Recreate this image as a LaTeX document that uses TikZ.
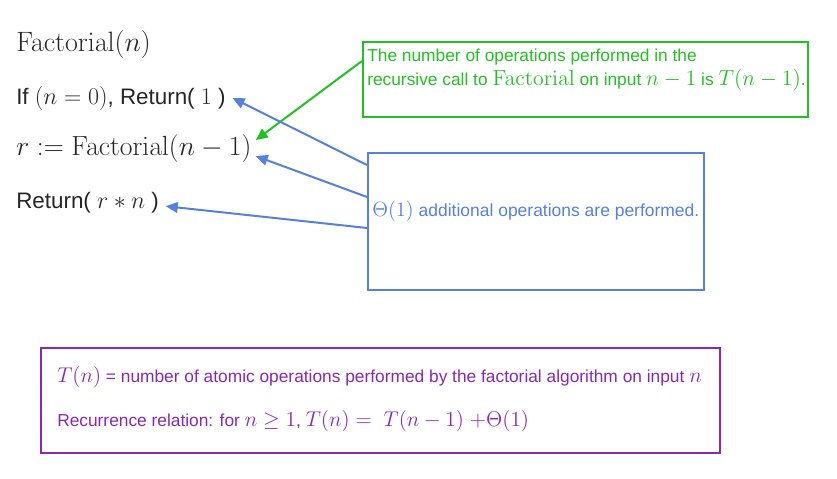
\RequirePackage{fix-cm}
\documentclass[tikz,border=0pt]{standalone}
\usepackage[no-math]{fontspec}
\setmainfont{Liberation Sans}
\usetikzlibrary{arrows.meta}

\definecolor{opgreen}{RGB}{34,192,34}
\definecolor{opblue}{RGB}{86,128,222}
\definecolor{recpurple}{RGB}{136,40,176}

% math set a little larger than the surrounding text
\newcommand{\mth}[2][18]{{\fontsize{#1}{#1}\selectfont$#2$}}

\begin{document}
\begin{tikzpicture}[x=0.75pt, y=-0.75pt, >={Triangle[length=9pt,width=8pt]},
    prog/.style={anchor=base west, inner sep=0pt, text=black!85},
    note/.style={anchor=base west, inner sep=0pt},
    frame/.style={draw, line width=1.5pt, inner sep=0pt, anchor=north west},
    link/.style={line width=1.5pt, ->}]
    % keep the margins of the page
    \useasboundingbox (0,0) rectangle (837,478);

    % Pseudocode
    \node[prog] (title) at (16,51) {\mth[21]{\mathrm{Factorial}(n)}};
    \node[prog] (base) at (16,104) {\fontsize{16.8}{19}\selectfont If \mth{(n=0)}, Return( \mth{1} )};
    \node[prog] (rcall) at (16,155) {\mth[20.8]{r := \mathrm{Factorial}(n-1)}};
    \node[prog] (ret) at (16,208) {\fontsize{16.8}{19}\selectfont Return( \mth{r*n} )};

    % Recursive call box
    \node[frame, opgreen, minimum width=333.75pt, minimum height=56.25pt] (opsbox) at (362,41) {};
    \node[note, text=opgreen] (opsline1) at (367,61) {\fontsize{13}{15}\selectfont The number of operations performed in the};
    \node[note, text=opgreen] (opsline2) at (367,85) {\fontsize{13}{15}\selectfont recursive call to \mth[16.4]{\mathrm{Factorial}} on input \mth[16.4]{n-1} is \mth[16.4]{T(n-1)}.};

    % Constant work box
    \node[frame, opblue, minimum width=252pt, minimum height=102.75pt] (thetabox) at (367,152) {};
    \node[note, text=opblue] (thetaline) at (372,216) {\fontsize{13.1}{15}\selectfont \mth[15.5]{\Theta(1)} additional operations are performed.};

    % Arrows into the pseudocode
    \draw[link, opgreen] ([yshift=-15pt]opsbox.north west) -- ([shift={(3pt,6pt)}]rcall.east);
    \draw[link, opblue] ([yshift=-9.75pt]thetabox.north west) -- ([shift={(5pt,0pt)}]base.east);
    \draw[link, opblue] ([yshift=-33.75pt]thetabox.north west) -- ([shift={(3pt,-6pt)}]rcall.east);
    \draw[link, opblue] ([yshift=-57pt]thetabox.north west) -- ([shift={(5pt,-3pt)}]ret.east);

    % Recurrence box
    \node[frame, recpurple, minimum width=509.25pt, minimum height=78.75pt] (recbox) at (40,347) {};
    \node[note, text=recpurple] (recline1) at (57,382) {\fontsize{13}{15}\selectfont \mth[16]{T(n)} = number of atomic operations performed by the factorial algorithm on input \mth[16]{n}};
    \node[note, text=recpurple] (recline2) at (57,426) {\fontsize{13}{15}\selectfont Recurrence relation: for \mth[16]{n \geq 1}, \mth[16]{T(n) =\ T(n-1)\ {+}\Theta(1)}};
\end{tikzpicture}
\end{document}
